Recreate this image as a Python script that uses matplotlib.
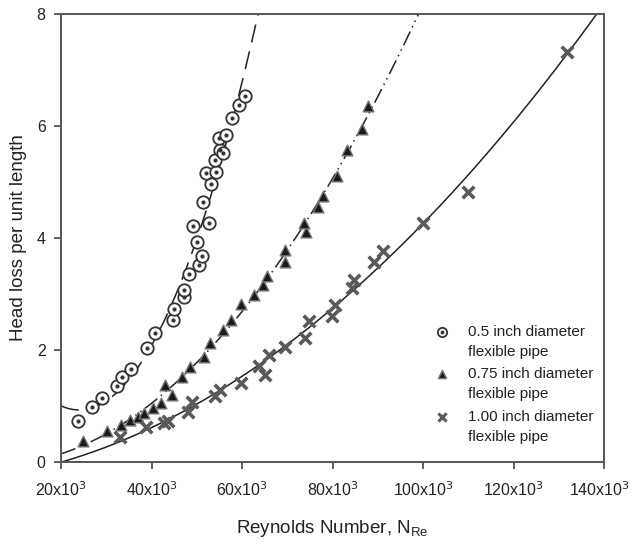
import numpy as np
import matplotlib
matplotlib.use("Agg")
import matplotlib.pyplot as plt
from matplotlib.transforms import ScaledTranslation

plt.rcParams['font.family'] = ['Liberation Sans', 'DejaVu Sans']

# Reynolds number (x10^3) and head loss per unit length for each pipe size
re_05 = [23.8, 26.8, 29.1, 32.3, 33.4, 35.5, 39.1, 40.8, 44.8, 45.0, 47.2, 47.1,
         48.3, 50.6, 51.2, 50.0, 52.7, 49.2, 51.3, 53.2, 52.0, 54.3, 54.1, 55.1,
         55.9, 55.0, 56.4, 57.7, 59.3, 60.7]
hl_05 = [0.73, 0.98, 1.14, 1.35, 1.51, 1.66, 2.03, 2.30, 2.54, 2.73, 2.95, 3.08,
         3.35, 3.51, 3.68, 3.92, 4.27, 4.21, 4.65, 4.96, 5.16, 5.18, 5.39, 5.57,
         5.51, 5.78, 5.84, 6.15, 6.37, 6.54]

re_075 = [24.9, 30.2, 33.2, 35.2, 37.1, 38.4, 40.3, 42.0, 44.5, 42.9, 46.7, 48.4,
          51.5, 52.9, 55.9, 57.6, 59.7, 62.7, 64.6, 65.6, 69.4, 69.4, 74.1, 73.7,
          76.8, 78.0, 81.1, 83.2, 86.6, 87.8]
hl_075 = [0.38, 0.55, 0.66, 0.75, 0.81, 0.87, 0.96, 1.05, 1.20, 1.38, 1.51, 1.70,
          1.88, 2.13, 2.36, 2.54, 2.83, 2.98, 3.16, 3.32, 3.58, 3.79, 4.10, 4.26,
          4.56, 4.75, 5.11, 5.57, 5.95, 6.35]

re_100 = [33.0, 38.8, 42.8, 43.7, 48.1, 49.0, 54.0, 55.1, 59.7, 63.8, 65.1, 66.0,
          69.4, 73.9, 74.8, 79.8, 80.5, 84.2, 84.7, 89.2, 91.1, 99.9, 110.0, 131.8]
hl_100 = [0.45, 0.62, 0.69, 0.74, 0.90, 1.08, 1.17, 1.29, 1.41, 1.71, 1.55, 1.91,
          2.06, 2.21, 2.51, 2.61, 2.80, 3.10, 3.25, 3.58, 3.76, 4.27, 4.82, 7.32]

labels = ["0.5 inch diameter\nflexible pipe",
          "0.75 inch diameter\nflexible pipe",
          "1.00 inch diameter\nflexible pipe"]
x_ticks = [20, 40, 60, 80, 100, 120, 140]
y_ticks = [0, 2, 4, 6, 8]

fig = plt.figure(figsize=(6.32, 5.46), dpi=100)
ax = fig.add_axes([61 / 632, 1 - 462 / 546, 543 / 632, 448 / 546])

ink = "#333333"
line_ink = "#222222"
xs = np.linspace(20, 140, 600)


def fit_curve(x, y):
    coef = np.polyfit(x, y, 2)
    yy = np.polyval(coef, xs)
    return np.where(yy <= 8.05, yy, np.nan)


# quadratic regression curves
ax.plot(xs, fit_curve(re_05, hl_05), color=line_ink, lw=1.1,
        dashes=(12, 6), zorder=2)
ax.plot(xs, fit_curve(re_075, hl_075), color=line_ink, lw=1.1,
        dashes=(10, 3, 1, 3, 1, 3), zorder=2)
ax.plot(xs, fit_curve(re_100, hl_100), color=line_ink, lw=1.1, zorder=2)

# marker styles per series
circ = dict(marker="o", facecolors="white", edgecolors=ink, linewidths=1.3)
dot = dict(marker="o", color=ink)
tri = dict(marker="^", facecolors="#1a1a1a", edgecolors="#777777", linewidths=1.0)
cross = dict(marker="x", color="#595959", linewidths=2.6)

ax.scatter(re_05, hl_05, s=80, zorder=3, **circ)
ax.scatter(re_05, hl_05, s=4, zorder=4, **dot)
ax.scatter(re_075, hl_075, s=60, zorder=3, **tri)
ax.scatter(re_100, hl_100, s=70, zorder=3, **cross)

ax.set_xlim(20, 140)
ax.set_ylim(0, 8)
ax.set_xticks(x_ticks)
ax.set_xticklabels([f"{v}x10$^3$" for v in x_ticks])
ax.set_yticks(y_ticks)
ax.set_yticklabels([str(v) for v in y_ticks])
ax.tick_params(direction="out", length=5, width=1.2, color="#444444",
               labelsize=11.5, labelcolor="#222222", pad=6)
ax.tick_params(axis="x", pad=8)
for sp in ax.spines.values():
    sp.set_color("#555555")
    sp.set_linewidth(1.4)

# keep the last x tick label inside the figure edge
last = ax.get_xticklabels()[-1]
last.set_transform(last.get_transform() + ScaledTranslation(-5 / 100, 0, fig.dpi_scale_trans))

ax.set_xlabel("Reynolds Number, N$_{\\mathregular{Re}}$", fontsize=13.5,
              color="#222222", labelpad=14)
ax.set_ylabel("Head loss per unit length", fontsize=13.5, color="#222222",
              labelpad=7)

# key: marker beside the first line of each two-line label
key_x, text_x = 0.7017, 0.7495
key_top = [0.290, 0.196, 0.100]
line_gap = 0.045
tr = ax.transAxes
for y0, lab, kind in zip(key_top, labels, ["circ", "tri", "cross"]):
    if kind == "circ":
        ax.scatter([key_x], [y0], s=45, transform=tr, clip_on=False, zorder=5, **circ)
        ax.scatter([key_x], [y0], s=3, transform=tr, clip_on=False, zorder=6, **dot)
    elif kind == "tri":
        ax.scatter([key_x], [y0], s=35, transform=tr, clip_on=False, zorder=5, **tri)
    else:
        ax.scatter([key_x], [y0], s=35, transform=tr, clip_on=False, zorder=5,
                   marker="x", color="#595959", linewidths=2.2)
    for i, part in enumerate(lab.split("\n")):
        ax.text(text_x, y0 - i * line_gap, part, transform=tr, fontsize=11,
                color="#222222", va="center", ha="left")

fig.savefig("out.png", dpi=100)
